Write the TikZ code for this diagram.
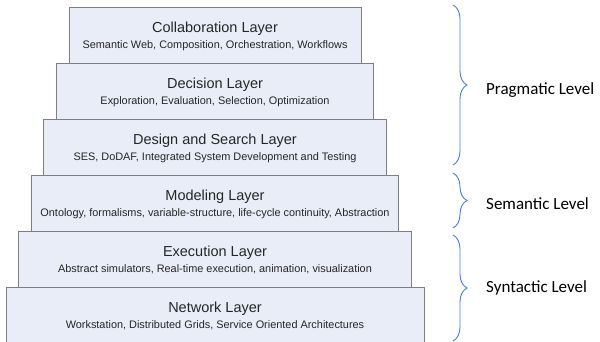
\documentclass[tikz,border=0pt]{standalone}
\usepackage{fontspec}
\setmainfont{Liberation Sans}
\newfontfamily\lvlfont{Carlito}
\usepackage{tikz}
\usetikzlibrary{decorations.pathreplacing}
\definecolor{layerfill}{HTML}{E9EDF7}
\definecolor{layerline}{HTML}{7F7F7F}
\definecolor{bracecol}{HTML}{4F81BD}
\tikzset{
  layer/.style={draw=layerline, fill=layerfill, line width=0.8pt, minimum height=56pt, inner sep=0pt},
  ltitle/.style={anchor=base, inner sep=0pt, font=\fontsize{14.5}{16}\selectfont, text=black!85},
  lsub/.style={anchor=base, inner sep=0pt, font=\fontsize{10.9}{12}\selectfont, text=black!85},
  lvlbrace/.style={draw=bracecol, line width=0.9pt, decorate, decoration={brace, amplitude=14pt}},
  lvl/.style={anchor=base west, inner sep=0pt, font=\lvlfont\fontsize{17}{19}\selectfont}
}

\begin{document}
\begin{tikzpicture}[x=1pt, y=-1pt]

\clip (0,0) rectangle (600,342);

\foreach \i/\ttl/\sub in {
  0/Collaboration Layer/{Semantic Web, Composition, Orchestration, Workflows},
  1/Decision Layer/{Exploration, Evaluation, Selection, Optimization},
  2/Design and Search Layer/{SES, DoDAF, Integrated System Development and Testing},
  3/Modeling Layer/{Ontology, formalisms, variable-structure, life-cycle continuity, Abstraction},
  4/Execution Layer/{Abstract simulators, Real-time execution, animation, visualization},
  5/Network Layer/{Workstation, Distributed Grids, Service Oriented Architectures}}
{
  \node[layer, minimum width=292+25.2*\i] (L\i) at (215,35+56*\i) {};
  \node[ltitle] (T\i) at (215,32.5+56*\i) {\ttl};
  \node[lsub] (S\i) at (215,48.5+56*\i) {\sub};
}

% levels
\coordinate (pragTop) at (453,5);
\coordinate (pragBot) at (453,165);
\coordinate (semTop) at (453,173);
\coordinate (semBot) at (453,228);
\coordinate (synTop) at (453,235);
\coordinate (synBot) at (453,341);
\draw[lvlbrace] (pragTop) -- (pragBot);
\draw[lvlbrace] (semTop) -- (semBot);
\draw[lvlbrace] (synTop) -- (synBot);
\node[lvl] (prag) at (486,95) {Pragmatic Level};
\node[lvl] (sem) at (486,209) {Semantic Level};
\node[lvl] (syn) at (486,292) {Syntactic Level};

\end{tikzpicture}
\end{document}
